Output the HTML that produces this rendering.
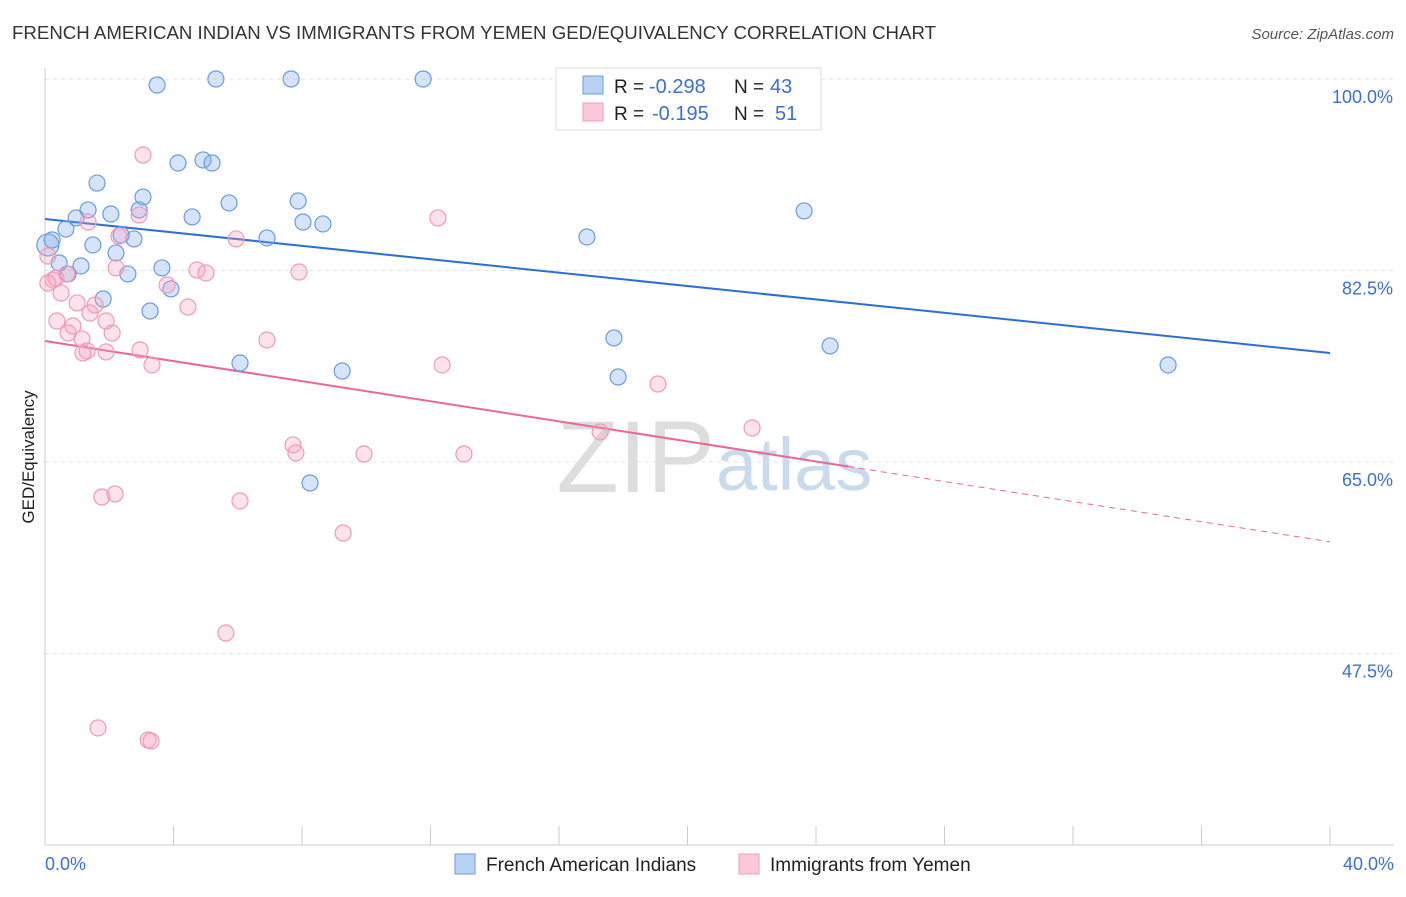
<!DOCTYPE html>
<html><head><meta charset="utf-8">
<style>
body{margin:0;background:#fff;font-family:"Liberation Sans",sans-serif;}
svg text{font-family:"Liberation Sans",sans-serif;}
</style></head>
<body>
<svg id="chart" width="1406" height="892">
<text x="12" y="39" font-size="18.6" fill="#333" textLength="924" lengthAdjust="spacingAndGlyphs">FRENCH AMERICAN INDIAN VS IMMIGRANTS FROM YEMEN GED/EQUIVALENCY CORRELATION CHART</text>
<text x="1394" y="39" font-size="15" fill="#555" font-style="italic" text-anchor="end">Source: ZipAtlas.com</text>
<text x="715" y="492" font-size="102" fill="#ddd" text-anchor="end" font-family="Liberation Serif,serif">ZIP</text>
<text x="716" y="490" font-size="74" fill="#c9d9ee">atlas</text>
<g id="grid"></g><g id="axes"></g><g id="trends"></g><g id="pts"></g>
<text transform="translate(34,457) rotate(-90)" font-size="17" fill="#222" text-anchor="middle">GED/Equivalency</text>
<text x="45" y="870" font-size="18" fill="#3b6fd4">0.0%</text>
<text x="1394" y="870" font-size="18" fill="#3b6fd4" text-anchor="end">40.0%</text>
<g>
<rect x="556" y="68" width="265" height="62" fill="#fff" stroke="#ddd"/>
<rect x="583" y="76" width="20" height="18" fill="#b9d2f4" stroke="#6a9be0"/>
<rect x="583" y="103" width="20" height="18" fill="#fbcad8" stroke="#f09ab8"/>
<text x="614" y="93" font-size="19" fill="#222">R =</text>
<text x="649" y="93" font-size="20" fill="#3b6fd4">-0.298</text>
<text x="734" y="93" font-size="19" fill="#222">N =</text>
<text x="770" y="93" font-size="20" fill="#3b6fd4">43</text>
<text x="614" y="120" font-size="19" fill="#222">R =</text>
<text x="652" y="120" font-size="20" fill="#3b6fd4">-0.195</text>
<text x="734" y="120" font-size="19" fill="#222">N =</text>
<text x="775" y="120" font-size="20" fill="#3b6fd4">51</text>
</g>
<g>
<rect x="455" y="854" width="20" height="20" fill="#b9d2f4" stroke="#6a9be0"/>
<text x="486" y="871" font-size="19" fill="#222">French American Indians</text>
<rect x="739" y="854" width="20" height="20" fill="#fbcad8" stroke="#f09ab8"/>
<text x="770" y="871" font-size="19" fill="#222">Immigrants from Yemen</text>
</g>
</svg>
<script>
const yTicks=[100,82.5,65,47.5];
const yTickLabels=["100.0%","82.5%","65.0%","47.5%"];
const xTicks=[0,4,8,12,16,20,24,28,32,36,40];
const blueX=[3.49,5.32,7.66,11.77,4.14,4.92,5.20,1.62,3.05,7.88,5.73,1.34,2.93,2.05,0.97,4.58,8.03,8.65,23.63,0.65,2.37,2.77,0.22,6.91,16.87,1.49,2.21,0.44,1.12,3.64,0.72,2.58,3.92,1.81,3.27,17.71,24.44,6.07,9.25,17.84,34.96,8.25,0.09];
const blueY=[99.45,100,100,100,92.32,92.60,92.32,90.49,89.21,88.85,88.67,88.03,88.03,87.66,87.30,87.39,86.93,86.75,87.94,86.29,85.74,85.38,85.28,85.47,85.56,84.83,84.10,83.18,82.91,82.73,82.18,82.18,80.81,79.89,78.79,76.33,75.60,74.04,73.31,72.76,73.86,63.07,84.83];
const pinkX=[3.05,1.34,2.93,12.23,2.30,5.95,0.09,2.21,4.73,5.01,7.91,0.25,0.09,0.68,0.34,3.80,0.50,1.00,1.56,4.45,1.40,0.37,1.90,0.87,0.72,2.09,1.15,6.91,1.31,1.90,1.18,2.96,3.33,12.36,19.08,17.28,22.01,7.72,7.81,9.93,13.04,1.77,2.18,6.07,9.28,5.63,1.65,3.21,3.30];
const pinkY=[93.05,86.93,87.57,87.30,85.65,85.38,83.82,82.73,82.54,82.27,82.36,81.63,81.35,82.18,81.81,81.17,80.44,79.53,79.34,79.16,78.61,77.88,77.88,77.42,76.78,76.78,76.24,76.14,75.14,75.05,74.96,75.23,73.86,73.86,72.12,67.74,68.10,66.55,65.82,65.72,65.72,61.79,62.07,61.43,58.50,49.36,40.68,39.58,39.49];
const blueTrend=[87.2,74.95];
const pinkTrend=[76.05,57.7];
const pinkSolidEnd=[25.0];
const X=v=>45+v/40*1285, Y=v=>79+(100-v)*10.94;
const NS="http://www.w3.org/2000/svg";
function mk(tag,attrs,parent){const e=document.createElementNS(NS,tag);for(const k in attrs)e.setAttribute(k,attrs[k]);document.getElementById(parent).appendChild(e);return e;}
yTicks.forEach((t,i)=>{
 const l=mk('line',{x1:45,x2:1394,y1:Y(t),y2:Y(t),stroke:'#e2e2e2','stroke-dasharray':'4,4'},'grid');
 
 
 const tx=mk('text',{x:1393,y:Y(t)+24,'font-size':18,fill:'#3b6fd4','text-anchor':'end'},'grid');
 tx.textContent=yTickLabels[i];
 
 
});
const ax=mk('line',{x1:45,x2:1394,y1:845,y2:845,stroke:'#ccc'},'axes');


const ay=mk('line',{x1:45,x2:45,y1:68,y2:845,stroke:'#ccc'},'axes');


xTicks.forEach(t=>{
 const l=mk('line',{x1:X(t),x2:X(t),y1:826,y2:845,stroke:'#ccc'},'axes');
 
 
});
const bt=mk('line',{x1:X(0),y1:Y(blueTrend[0]),x2:X(40),y2:Y(blueTrend[1]),stroke:'#2a6fd6','stroke-width':2},'trends');


const py=v=>pinkTrend[0]+(pinkTrend[1]-pinkTrend[0])*v/40;
const ps=mk('line',{x1:X(0),y1:Y(pinkTrend[0]),x2:X(pinkSolidEnd[0]),y2:Y(py(pinkSolidEnd[0])),stroke:'#e8689a','stroke-width':2},'trends');


const pd=mk('line',{x1:X(pinkSolidEnd[0]),y1:Y(py(pinkSolidEnd[0])),x2:X(40),y2:Y(pinkTrend[1]),stroke:'#e8689a','stroke-width':1,'stroke-dasharray':'6,5'},'trends');


blueX.forEach((x,i)=>{
 const c=mk('circle',{cx:X(x),cy:Y(blueY[i]),r:i==blueX.length-1?11:8,fill:'rgba(120,165,235,0.3)',stroke:'#6a9be0','stroke-width':1.2},'pts');
 
 
});
pinkX.forEach((x,i)=>{
 const c=mk('circle',{cx:X(x),cy:Y(pinkY[i]),r:8,fill:'rgba(245,160,190,0.3)',stroke:'#f09ab8','stroke-width':1.2},'pts');
 
 
});
</script>
</body></html>
